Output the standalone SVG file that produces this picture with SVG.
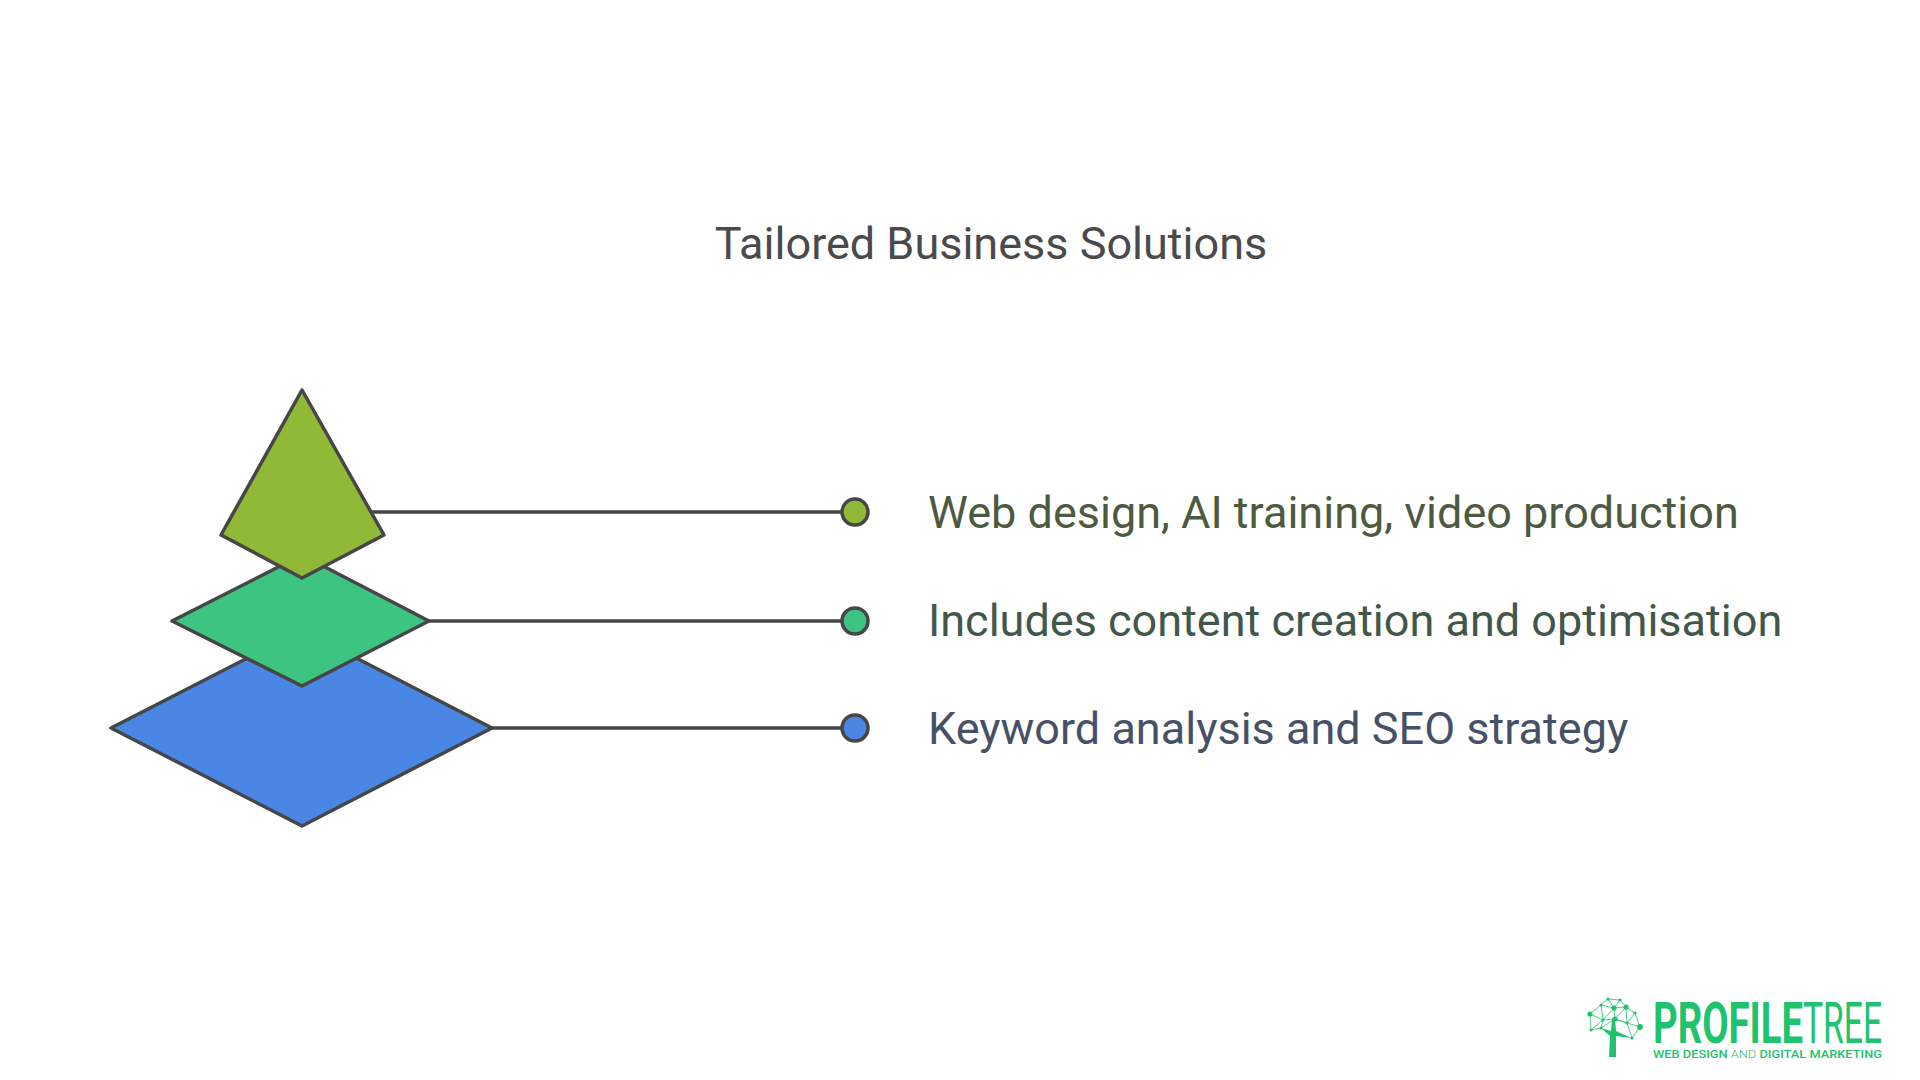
<svg xmlns="http://www.w3.org/2000/svg" width="1920" height="1080" viewBox="0 0 1920 1080">
<style>
.shape{stroke:#464646;stroke-width:3.5;stroke-linejoin:round}
.conn{stroke:#464646;stroke-width:3.5;fill:none}
.dot{stroke:#464646;stroke-width:3.5}
.lbl{font-family:Roboto,"Liberation Sans",sans-serif;font-size:45px}
.title{font-family:Roboto,"Liberation Sans",sans-serif;font-size:45px;fill:#4a4a4a}
.logo{fill:#1fc26d}
.logotxt{font-family:Roboto,"Liberation Sans",sans-serif;fill:#1fc26d}
</style>
<rect width="1920" height="1080" fill="#ffffff"/>
<text class="title" x="991" y="259" text-anchor="middle">Tailored Business Solutions</text>
<g id="connectors">
<line class="conn" x1="370" y1="512" x2="842" y2="512"/>
<line class="conn" x1="429" y1="621" x2="842" y2="621"/>
<line class="conn" x1="492" y1="728" x2="842" y2="728"/>
</g>
<g id="level-bottom">
<polygon class="shape" fill="#4a86e4" points="302,630 492,728 302,826 111,728"/>
<circle class="dot" cx="855" cy="728" r="13" fill="#4a86e4"/>
<text class="lbl" x="928" y="744" fill="#465168">Keyword analysis and SEO strategy</text>
</g>
<g id="level-middle">
<polygon class="shape" fill="#3dc481" points="302,555 429,621 302,686 172,621"/>
<circle class="dot" cx="855" cy="621" r="13" fill="#3dc481"/>
<text class="lbl" x="928" y="636" fill="#42574a">Includes content creation and optimisation</text>
</g>
<g id="level-top">
<polygon class="shape" fill="#8fb937" points="302,390 384,535 302,578 221,535"/>
<circle class="dot" cx="855" cy="512" r="13" fill="#8fb937"/>
<text class="lbl" x="928" y="528" fill="#4e5a40">Web design, AI training, video production</text>
</g>
<g id="logo">
<g class="logo">
<path d="M1609,1057 L1616,1057 L1616,1036 L1631,1038 L1616,1031 L1615,1019 L1612,1019 L1611,1031 L1601,1028 L1610,1036 Z"/>
</g>
<g stroke="#1fc26d" stroke-width="0.8" fill="none">
<path d="M1608,999 L1620,1000 L1626,1007 L1635,1013 L1640,1027 L1632,1038 L1627,1023 L1615,1019 L1603,1020 L1591,1030 L1590,1014 L1601,1005 L1608,999 L1614,1008 L1620,1000 M1614,1008 L1626,1007 L1627,1023 L1640,1027 M1614,1008 L1615,1019 L1626,1007 M1601,1005 L1614,1008 L1603,1020 L1601,1005 M1590,1014 L1603,1020 L1601,1028 L1591,1030 M1635,1013 L1627,1023 L1615,1019 M1601,1028 L1615,1019"/>
</g>
<g class="logo">
<circle cx="1608" cy="999" r="1.6"/><circle cx="1620" cy="1000" r="1.6"/>
<circle cx="1601" cy="1005" r="1.5"/><circle cx="1614" cy="1008" r="2.6"/>
<circle cx="1626" cy="1007" r="2.6"/><circle cx="1590" cy="1014" r="2.6"/>
<circle cx="1603" cy="1020" r="1.6"/><circle cx="1615" cy="1019" r="2.6"/>
<circle cx="1635" cy="1013" r="1.6"/><circle cx="1640" cy="1027" r="3"/>
<circle cx="1627" cy="1023" r="1.6"/><circle cx="1591" cy="1030" r="1.5"/>
<circle cx="1632" cy="1038" r="1.6"/><circle cx="1601" cy="1028" r="1.5"/>
</g>
<text class="logotxt" transform="translate(1653,1043) scale(0.66,1)" font-size="58" font-weight="bold">PROFILE</text>
<text class="logotxt" transform="translate(1803,1043) scale(0.58,1)" font-size="58" font-weight="normal">TREE</text>
<text class="logotxt" x="1653" y="1058" font-size="11.5" font-weight="500" textLength="229" lengthAdjust="spacingAndGlyphs">WEB DESIGN <tspan font-weight="300">AND</tspan> DIGITAL MARKETING</text>
</g>
</svg>
